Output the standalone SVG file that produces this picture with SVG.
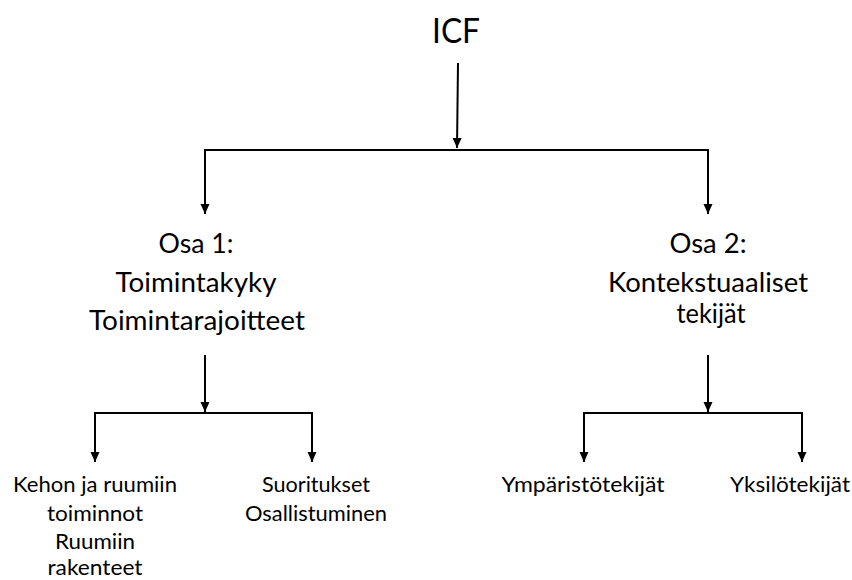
<svg xmlns="http://www.w3.org/2000/svg" width="852" height="580" viewBox="0 0 852 580">
<defs>
<marker id="ah" markerUnits="userSpaceOnUse" markerWidth="12" markerHeight="12" viewBox="0 0 12 12" refX="10" refY="6" orient="auto">
<path d="M0,1.5 L10,6 L0,10.5 Z" fill="#000"/>
</marker>
</defs>
<style>
.t{font-family:Lato,"Open Sans",sans-serif;fill:#000;text-anchor:middle}
.big{font-size:35px}
.mid{font-size:27px}
.sm{font-size:21.5px}
.c{fill:none;stroke:#000;stroke-width:2}
</style>
<rect width="852" height="580" fill="#fff"/>
<g id="connectors">
<line class="c" x1="458" y1="63" x2="457" y2="148" marker-end="url(#ah)"/>
<polyline class="c" points="205,150 708,150"/>
<path class="c" d="M205,149 V214" marker-end="url(#ah)"/>
<path class="c" d="M708,149 V214" marker-end="url(#ah)"/>
<line class="c" x1="205" y1="355" x2="205" y2="412" marker-end="url(#ah)"/>
<polyline class="c" points="95,413 312,413"/>
<path class="c" d="M95,412 V462" marker-end="url(#ah)"/>
<path class="c" d="M312,412 V462" marker-end="url(#ah)"/>
<line class="c" x1="708" y1="355" x2="708" y2="412" marker-end="url(#ah)"/>
<polyline class="c" points="584,413 802,413"/>
<path class="c" d="M584,412 V462" marker-end="url(#ah)"/>
<path class="c" d="M802,412 V462" marker-end="url(#ah)"/>
</g>
<g id="icf"><text class="t big" x="456" y="43" textLength="48" lengthAdjust="spacingAndGlyphs">ICF</text></g>
<g id="osa1">
<text class="t mid" x="196" y="253" textLength="75" lengthAdjust="spacingAndGlyphs">Osa 1:</text>
<text class="t mid" x="196" y="292" textLength="161" lengthAdjust="spacingAndGlyphs">Toimintakyky</text>
<text class="t mid" x="197" y="330" textLength="216" lengthAdjust="spacingAndGlyphs">Toimintarajoitteet</text>
</g>
<g id="osa2">
<text class="t mid" x="708" y="253" textLength="77" lengthAdjust="spacingAndGlyphs">Osa 2:</text>
<text class="t mid" x="708" y="292" textLength="200" lengthAdjust="spacingAndGlyphs">Kontekstuaaliset</text>
<text class="t mid" x="711" y="323" textLength="69" lengthAdjust="spacingAndGlyphs">tekijät</text>
</g>
<g id="kehon">
<text class="t sm" x="95" y="492" textLength="164" lengthAdjust="spacingAndGlyphs">Kehon ja ruumiin</text>
<text class="t sm" x="95" y="521" textLength="96" lengthAdjust="spacingAndGlyphs">toiminnot</text>
<text class="t sm" x="95" y="549" textLength="80" lengthAdjust="spacingAndGlyphs">Ruumiin</text>
<text class="t sm" x="95" y="575" textLength="95" lengthAdjust="spacingAndGlyphs">rakenteet</text>
</g>
<g id="suoritukset">
<text class="t sm" x="316" y="492" textLength="108" lengthAdjust="spacingAndGlyphs">Suoritukset</text>
<text class="t sm" x="316" y="521" textLength="142" lengthAdjust="spacingAndGlyphs">Osallistuminen</text>
</g>
<g id="ymparisto"><text class="t sm" x="583" y="492" textLength="163" lengthAdjust="spacingAndGlyphs">Ympäristötekijät</text></g>
<g id="yksilo"><text class="t sm" x="790" y="492" textLength="120" lengthAdjust="spacingAndGlyphs">Yksilötekijät</text></g>
</svg>
